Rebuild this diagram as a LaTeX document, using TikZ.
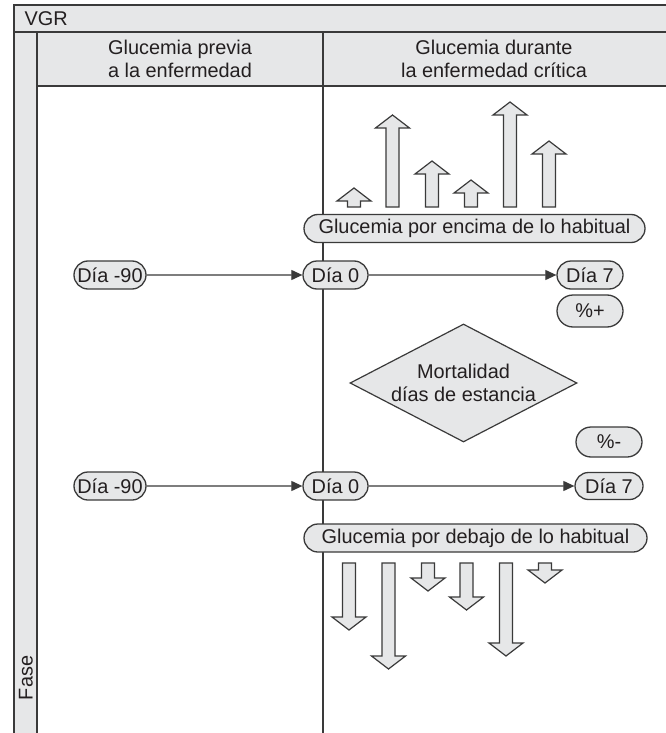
\documentclass[tikz,border=0pt]{standalone}
\usepackage{fontspec}
\setmainfont{Liberation Sans}
\usetikzlibrary{shapes.misc,shapes.geometric,arrows.meta}
\definecolor{fillg}{HTML}{E6E7E8}
\definecolor{lineg}{HTML}{3A3A3A}
\definecolor{textg}{HTML}{231F20}
\newcommand\UpBlk[3]{%
  \draw[blk] (#1-6.5,#3) -- (#1-6.5,#2+13) -- (#1-17,#2+13) -- (#1,#2) -- (#1+17,#2+13) -- (#1+6.5,#2+13) -- (#1+6.5,#3) -- cycle;}
\newcommand\DownBlk[3]{%
  \draw[blk] (#1-6.5,#3) -- (#1-6.5,#2-13) -- (#1-17,#2-13) -- (#1,#2) -- (#1+17,#2-13) -- (#1+6.5,#2-13) -- (#1+6.5,#3) -- cycle;}
\begin{document}
\begin{tikzpicture}[x=1pt,y=-1pt,
  every node/.style={font=\fontsize{19.9}{23}\selectfont, text=textg},
  pill/.style={rounded rectangle, draw=lineg, fill=fillg, line width=1.3pt, inner sep=0pt, minimum height=28pt},
  conn/.style={draw=lineg, line width=1.1pt, -{Triangle[length=11pt,width=10pt]}},
  blk/.style={draw=lineg, fill=fillg, line width=1.2pt, line join=miter},
  frame/.style={draw=lineg, line width=1.4pt}]
\useasboundingbox (0,0) rectangle (666,733);
\clip (0,0) rectangle (666,733);
\fill[white] (0,0) rectangle (666,733);
% frame
\draw[frame, fill=fillg] (14,5) rectangle (680,32);
\draw[frame, fill=fillg] (37,32) rectangle (680,86);
\draw[frame, fill=fillg] (14,32) rectangle (37,745);
\draw[frame] (323,32) -- (323,745);
% headers
\node[anchor=west] (vgr) at (21,18.5) {VGR};
\node[align=center] (h1) at (180,59) {Glucemia previa\\a la enfermedad};
\node[align=center] (h2) at (494,59) {Glucemia durante\\la enfermedad crítica};
\node[rotate=90] (fase) at (26,678) {Fase};
% up arrows
\UpBlk{354}{188}{207}
\UpBlk{392.5}{115}{207}
\UpBlk{432}{161}{207}
\UpBlk{471}{180}{207}
\UpBlk{510}{102}{207}
\UpBlk{549}{141}{207}
% down arrows
\DownBlk{349}{630}{563}
\DownBlk{388.5}{669}{563}
\DownBlk{428}{591}{563}
\DownBlk{466.5}{610}{563}
\DownBlk{506}{656}{563}
\DownBlk{545}{583}{563}
% pills
\node[pill, minimum width=341pt] (hi) at (474.5,228.5) {Glucemia por encima de lo habitual};
\node[pill, minimum width=72pt] (a90) at (110,275) {Día -90};
\node[pill, minimum width=65pt] (a0) at (335.5,275) {Día 0};
\node[pill, minimum width=66pt] (a7) at (590,275) {Día 7};
\node[pill, minimum width=66pt, minimum height=32pt] (ap) at (590,311) {\%+};
\node[diamond, draw=lineg, fill=fillg, line width=1.2pt, aspect=1.92, minimum width=227pt, minimum height=118pt, inner sep=0pt] (dm) at (463.5,383) {};
\node[align=center] (dmt) at (dm.center) {Mortalidad\\días de estancia};
\node[pill, minimum width=66pt, minimum height=30pt] (am) at (609,442) {\%-};
\node[pill, minimum width=72pt] (b90) at (110,486) {Día -90};
\node[pill, minimum width=65pt] (b0) at (335.5,486) {Día 0};
\node[pill, minimum width=68pt, minimum height=27pt] (b7) at (609,486) {Día 7};
\node[pill, minimum width=343pt] (lo) at (475.5,538) {Glucemia por debajo de lo habitual};
% connectors
\draw[conn] (a90) -- (a0);
\draw[conn] (a0) -- (a7);
\draw[conn] (b90) -- (b0);
\draw[conn] (b0) -- (b7);
\end{tikzpicture}
\end{document}
